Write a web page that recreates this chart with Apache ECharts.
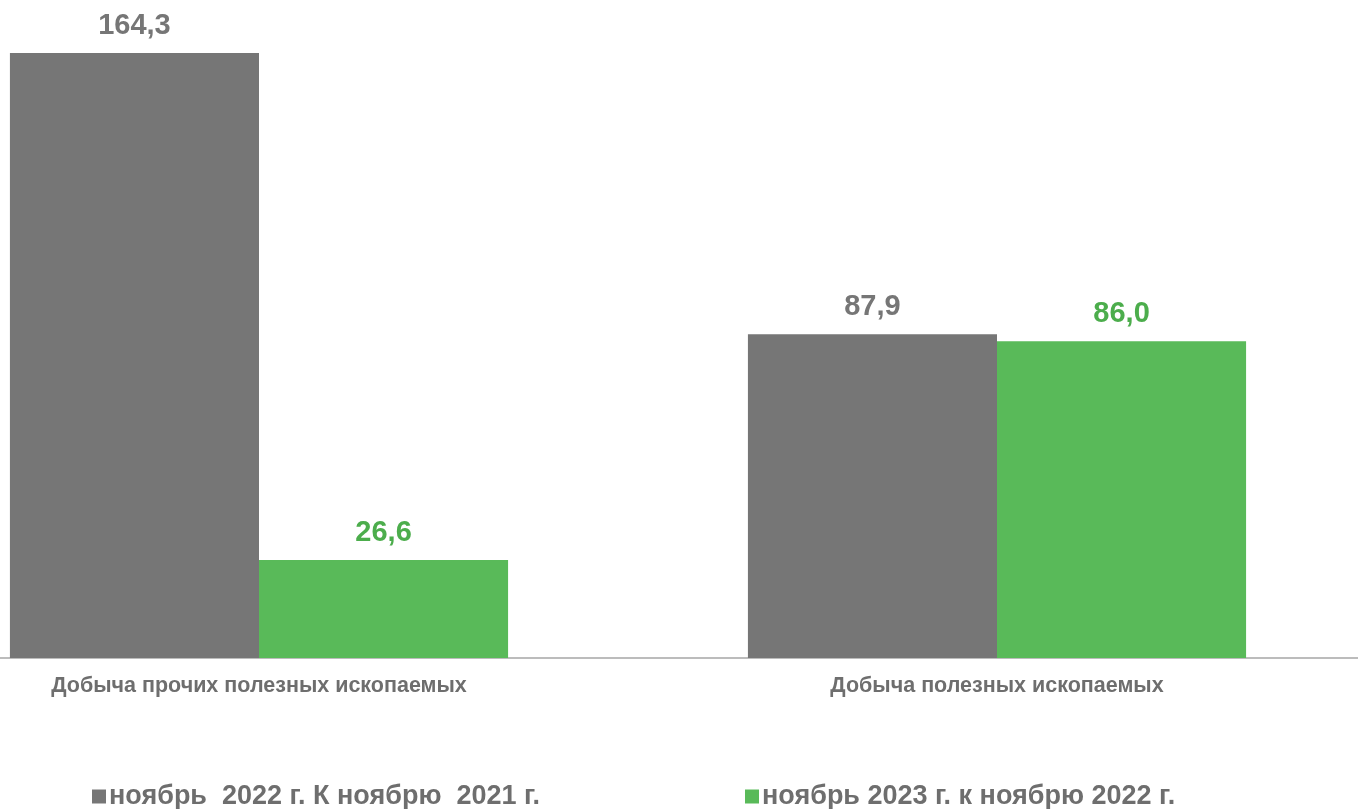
<!DOCTYPE html>
<html><head><meta charset="utf-8">
<script src="https://cdn.jsdelivr.net/npm/echarts@6/dist/echarts.min.js"></script>
<style>html,body{margin:0;padding:0;background:#fff}#c{width:1358px;height:809px}</style>
</head><body><div id="c"></div>
<script>
const categories = ['Добыча прочих полезных ископаемых', 'Добыча полезных ископаемых'];
const seriesNames = ['ноябрь  2022 г. К ноябрю  2021 г.', 'ноябрь 2023 г. к ноябрю 2022 г.'];
const values2022 = [164.3, 87.9];
const values2023 = [26.6, 86.0];

const fmt = p => p.value.toFixed(1).replace('.', ',');
const chart = echarts.init(document.getElementById('c'));
const font = 'Liberation Sans, Arial, sans-serif';
const legendText = { color: '#6e6e6e', fontWeight: 'bold', fontSize: 27, fontFamily: font, padding: [0,0,0,-2] };
chart.setOption({
  animation: false,
  grid: { left: -110, width: 1476, top: 53, bottom: 151, containLabel: false, outerBoundsMode: 'none' },
  xAxis: {
    type: 'category', data: categories,
    axisLine: { lineStyle: { color: '#a6a6a6', width: 1.5 } },
    axisTick: { show: false },
    axisLabel: { color: '#6e6e6e', fontWeight: 'bold', fontSize: 21.5, fontFamily: font, margin: 17 }
  },
  yAxis: { type: 'value', min: 0, max: 164.3, show: false, splitLine: { show: false } },
  legend: [
    { data: [seriesNames[0]], left: 87, top: 778, itemWidth: 14, itemHeight: 14, icon: 'rect', textStyle: legendText },
    { data: [seriesNames[1]], left: 740, top: 778, itemWidth: 14, itemHeight: 14, icon: 'rect', textStyle: legendText }
  ],
  series: [
    { name: seriesNames[0], type: 'bar', data: values2022, barGap: '0%', barCategoryGap: '32.5%',
      itemStyle: { color: '#767676' },
      label: { show: true, position: 'top', distance: 13, formatter: fmt, color: '#767676', fontWeight: 'bold', fontSize: 29, fontFamily: font } },
    { name: seriesNames[1], type: 'bar', data: values2023, barGap: '0%', barCategoryGap: '32.5%',
      itemStyle: { color: '#59ba59' },
      label: { show: true, position: 'top', distance: 13, formatter: fmt, color: '#4cad4c', fontWeight: 'bold', fontSize: 29, fontFamily: font } }
  ]
});
</script></body></html>
